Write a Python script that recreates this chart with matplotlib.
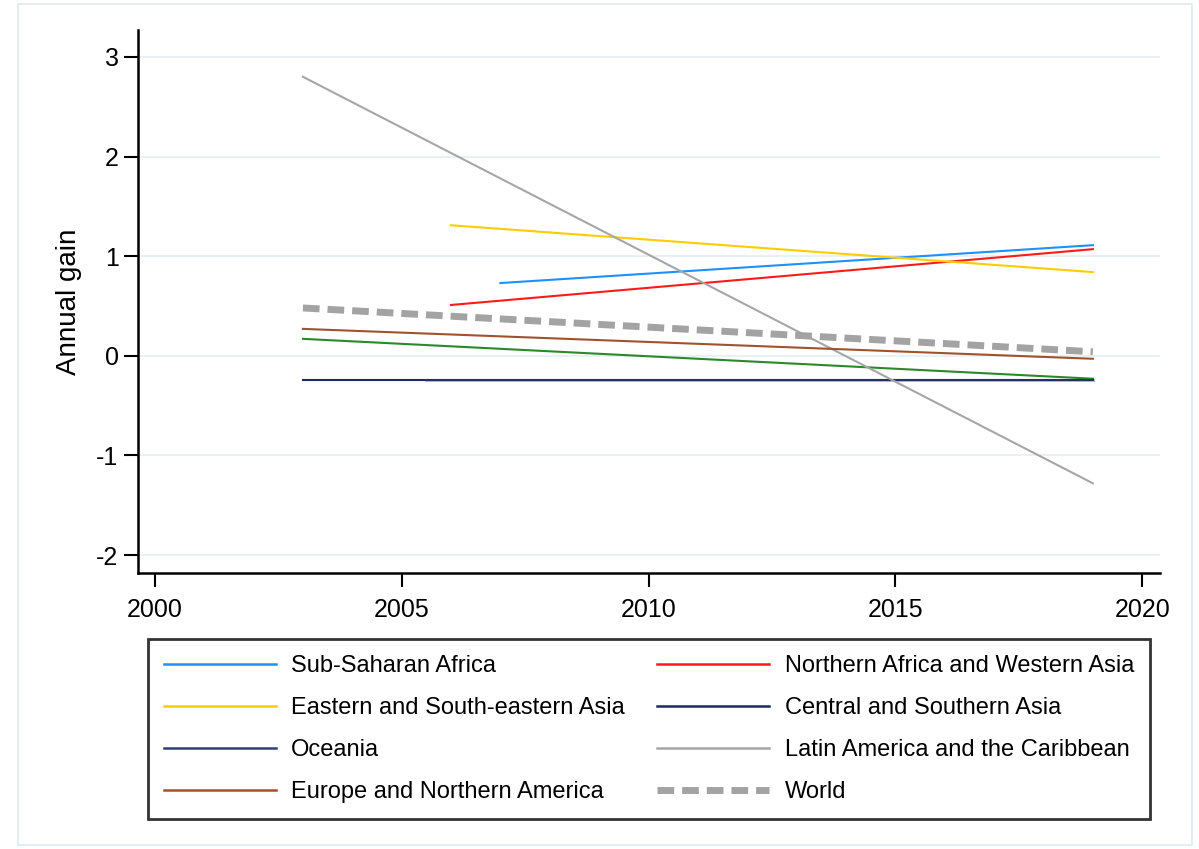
import matplotlib
matplotlib.use("Agg")
import matplotlib.pyplot as plt
from matplotlib.patches import Rectangle
from matplotlib.lines import Line2D

plt.rcParams['font.family'] = ['Liberation Sans', 'DejaVu Sans']

# start / end points of the fitted trend for each region
regions = [
    "Sub-Saharan Africa",
    "Northern Africa and Western Asia",
    "Eastern and South-eastern Asia",
    "Central and Southern Asia",
    "Oceania",
    "Latin America and the Caribbean",
    "Europe and Northern America",
    "World",
]
years = [
    [2007, 2019],
    [2006, 2019],
    [2006, 2019],
    [2003, 2019],
    [2005.5, 2019],
    [2003, 2019],
    [2003, 2019],
    [2003, 2019],
]
gains = [
    [0.73, 1.11],
    [0.51, 1.07],
    [1.31, 0.84],
    [-0.24, -0.24],
    [-0.245, -0.245],
    [2.80, -1.28],
    [0.27, -0.03],
    [0.48, 0.04],
]
colors = ["#1e90ff", "#ff1a1a", "#ffcc00", "#1c2a5c", "#34406e",
          "#a6a6a6", "#a0522d", "#a3a3a3"]

# extra trend drawn without a legend entry
extra_years = [2003, 2019]
extra_gain = [0.17, -0.23]

fig = plt.figure(figsize=(11.99, 8.49), dpi=100)
fig.patches.append(Rectangle((18 / 1199, 4 / 849), 1174 / 1199, 841 / 849,
                             transform=fig.transFigure, fill=False,
                             edgecolor="#dfeaee", linewidth=1.2))

ax = fig.add_axes([0.1151, 0.3251, 0.8524, 0.6396])

ax.plot(extra_years, extra_gain, color="#2a8a2a", linewidth=1.5, label="_nolegend_")
handles = []
for name, x, y, c in zip(regions, years, gains, colors):
    if name == "World":
        ax.plot(x, y, color=c, linewidth=5, dashes=(2.4, 1.15))
        handles.append(Line2D([], [], color=c, linewidth=5, dashes=(2.4, 1.15), label=name))
    elif name == "Oceania":
        ax.plot(x, y, color=c, linewidth=2, alpha=0.4)
        handles.append(Line2D([], [], color=c, linewidth=1.8, label=name))
    else:
        ax.plot(x, y, color=c, linewidth=1.5)
        handles.append(Line2D([], [], color=c, linewidth=1.8, label=name))

ax.set_xlim(1999.66, 2020.36)
ax.set_ylim(-2.18, 3.27)
ax.set_xticks([2000, 2005, 2010, 2015, 2020])
ax.set_yticks([-2, -1, 0, 1, 2, 3])
ax.set_yticklabels(["-2", "-1", "0", "1", "2", "3"])
ax.grid(axis="y", color="#e4eef1", linewidth=1.1)
ax.set_axisbelow(True)

for s in ["top", "right"]:
    ax.spines[s].set_visible(False)
for s in ["left", "bottom"]:
    ax.spines[s].set_linewidth(1.8)

ax.tick_params(axis="both", direction="out", length=10, width=1.5, labelsize=18)
ax.tick_params(axis="y", pad=4)
ax.tick_params(axis="x", pad=8)
ax.set_ylabel("Annual gain", fontsize=20)
ax.yaxis.set_label_coords(-0.055, 0.5)

# legend reads row by row
order = [0, 2, 4, 6, 1, 3, 5, 7]
leg = fig.legend(handles=[handles[i] for i in order], loc="upper left", ncol=2, mode="expand",
                 bbox_to_anchor=(148 / 1199, 1 - 816 / 849, 1002 / 1199, 177 / 849),
                 borderaxespad=0, fontsize=17, handlelength=4.75, handletextpad=0.64,
                 labelspacing=0.85, borderpad=0.68, columnspacing=1.5,
                 fancybox=False, frameon=True)
leg.get_frame().set_edgecolor("black")
leg.get_frame().set_linewidth(2)

fig.savefig("out.png", dpi=100)
